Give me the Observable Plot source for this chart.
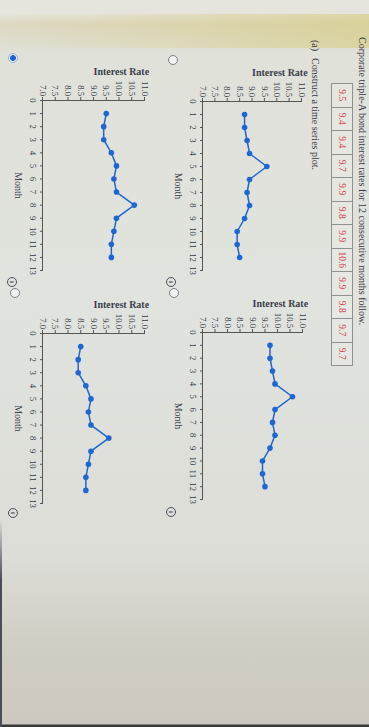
<!DOCTYPE html>
<html>
<head>
<meta charset="utf-8">
<script src="https://cdn.jsdelivr.net/npm/d3@7"></script>
<script src="https://cdn.jsdelivr.net/npm/@observablehq/plot@0.6"></script>
<style>
html, body { margin: 0; padding: 0; width: 369px; height: 727px; overflow: hidden; }
body {
  position: relative;
  background:
    linear-gradient(to right, rgba(225,222,208,0) 0%, rgba(214,202,120,0.55) 100%) 0 14px / 100% 34px no-repeat,
    linear-gradient(to bottom, #e6e4dd 0px, #e6e4dd 14px, #ddd8c2 24px, #e0e1d9 52px, #e1e3de 300px, #dcddd7 560px, #d1cec5 640px, #ccc8bf 724px, #3a3a3a 725px);
}
#edge { position: absolute; left: 0; top: 520px; width: 2px; height: 207px; background: linear-gradient(to bottom, rgba(60,60,70,0), #4a4d58 60px); }
#page {
  position: absolute; left: 0; top: 0; width: 727px; height: 369px;
  transform-origin: 0 0; transform: translate(369px, 0) rotate(90deg);
  font-family: "Liberation Serif", "DejaVu Serif", serif; color: #333a44;
}
.abs { position: absolute; white-space: nowrap; }
#title { left: 37px; top: 2px; font-size: 10px; line-height: 10px; }
#parta { left: 40px; top: 48px; font-size: 10px; line-height: 11px; }
#parta span { margin-left: 7px; }
#tbl { left: 83px; top: 16px; border-collapse: collapse; }
#tbl td { border: 1px solid #8f9090; width: 22.5px; height: 20px; padding: 0; text-align: center; font-size: 9.5px; color: #cf4a55; background: rgba(240,240,236,0.35); }
.radio { position: absolute; width: 8px; height: 8px; border-radius: 50%; border: 1px solid #7d8088; background: #f1f2ef; transform: translate(-5px,-5px); }
.radio.on { border-color: #9fb3d6; background: radial-gradient(circle, #1f63d0 0 2.6px, #e9eef7 3.2px); }
.info { position: absolute; width: 8px; height: 8px; border-radius: 50%; border: 1px solid #4b4f5a; transform: translate(-5px,-5px); font-size: 7px; line-height: 8px; text-align: center; font-weight: bold; color: #3b3f4a; }
.chart { position: absolute; }
</style>
</head>
<body>
<div id="edge"></div>
<div id="page">
  <div id="title" class="abs"></div>
  <div id="parta" class="abs">(a)<span>Construct a time series plot.</span></div>
  <table id="tbl" class="abs"><tr id="tblrow"></tr></table>
</div>
<script>
// ---- data ----
const titleText = "Corporate triple-A bond interest rates for 12 consecutive months follow.";
const months = [1, 2, 3, 4, 5, 6, 7, 8, 9, 10, 11, 12];
const tableRates = [9.5, 9.4, 9.4, 9.7, 9.9, 9.8, 9.9, 10.6, 9.9, 9.8, 9.7, 9.7];
// option graphs
const ratesOptionA = [8.7, 8.7, 8.8, 8.9, 9.6, 8.9, 8.8, 8.9, 8.7, 8.4, 8.4, 8.5];   // upper right
const ratesOptionB = [9.5, 9.4, 9.4, 9.7, 9.9, 9.8, 9.9, 10.6, 9.9, 9.8, 9.7, 9.7]; // upper left (selected)
const ratesOptionC = [8.5, 8.4, 8.4, 8.7, 8.9, 8.8, 8.9, 9.6, 8.9, 8.8, 8.7, 8.7];   // lower left
const ratesOptionD = [9.7, 9.7, 9.8, 9.9, 10.6, 9.9, 9.8, 9.9, 9.7, 9.4, 9.4, 9.5]; // lower right
const monthTicks = [0, 1, 2, 3, 4, 5, 6, 7, 8, 9, 10, 11, 12, 13];
const rateTicks = [7.0, 7.5, 8.0, 8.5, 9.0, 9.5, 10.0, 10.5, 11.0];
const yLabel = "Interest Rate";
const xLabel = "Month";

// ---- header ----
document.getElementById("title").textContent = titleText;
const row = document.getElementById("tblrow");
tableRates.forEach(v => { const td = document.createElement("td"); td.textContent = v.toFixed(1); row.appendChild(td); });

const page = document.getElementById("page");
const blue = "#1f66d3";

function makeChart(values, f) {
  const rows = months.map((m, i) => ({month: m, rate: values[i]}));
  const ml = 62, mr = 12, mt = 10, mb = 42;
  const w = f.u1 - f.u0, h = f.v1 - f.v0;
  const svg = Plot.plot({
    width: w + ml + mr, height: h + mt + mb,
    marginLeft: ml, marginRight: mr, marginTop: mt, marginBottom: mb,
    style: {background: "transparent", fontFamily: "'Liberation Serif', serif", fontSize: "8.7px", color: "#333a44", overflow: "visible"},
    x: {domain: [0, 13], label: null},
    y: {domain: [7, 11], label: null},
    marks: [
      Plot.axisX({ticks: monthTicks, tickSize: 3, tickPadding: 3.5, tickFormat: d => String(d), label: null, stroke: "#555"}),
      Plot.axisY({ticks: rateTicks, tickSize: 3, tickPadding: 1.5, tickFormat: d => d.toFixed(1), label: null, stroke: "#555"}),
      Plot.ruleX([0], {stroke: "#555"}),
      Plot.ruleY([7], {stroke: "#555"}),
      Plot.line(rows, {x: "month", y: "rate", stroke: blue, strokeWidth: 1.5}),
      Plot.dot(rows, {x: "month", y: "rate", fill: blue, r: 2.8}),
      Plot.text([yLabel], {frameAnchor: "left", rotate: -90, dx: -29, fontSize: 10, fill: "#3a404c", fontWeight: 600}),
      Plot.text([xLabel], {frameAnchor: "bottom", dy: 28, fontSize: 10, fill: "#3a404c"})
    ]
  });
  svg.classList.add("chart");
  svg.style.left = (f.u0 - ml) + "px";
  svg.style.top = (f.v0 - mt) + "px";
  svg.style.maxWidth = "none";
  page.appendChild(svg);
}

makeChart(ratesOptionA, {u0: 101, u1: 270, v0: 67, v1: 166});
makeChart(ratesOptionB, {u0: 100, u1: 270, v0: 224, v1: 326});
makeChart(ratesOptionD, {u0: 332, u1: 499, v0: 66, v1: 166});
makeChart(ratesOptionC, {u0: 333, u1: 503, v0: 224, v1: 326});

// radio buttons and info icons
const radios = [{u: 58, v: 356, on: true}, {u: 60, v: 196}, {u: 293, v: 195}, {u: 293, v: 354}];
radios.forEach(r => { const d = document.createElement("div"); d.className = "radio" + (r.on ? " on" : ""); d.style.left = r.u + "px"; d.style.top = r.v + "px"; page.appendChild(d); });
const infos = [{u: 282, v: 198}, {u: 282, v: 357}, {u: 513, v: 356}, {u: 512, v: 198}];
infos.forEach(r => { const d = document.createElement("div"); d.className = "info"; d.textContent = "i"; d.style.left = r.u + "px"; d.style.top = r.v + "px"; page.appendChild(d); });
</script>
</body>
</html>
